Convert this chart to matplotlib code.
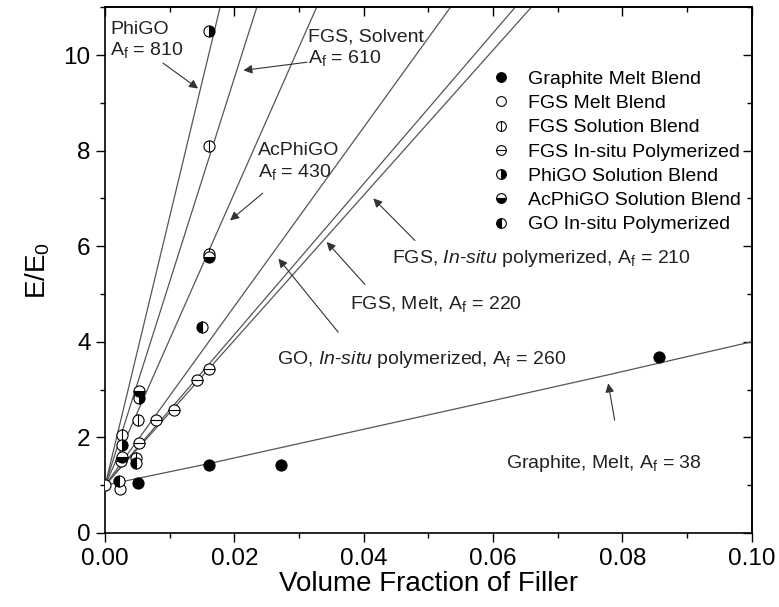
import matplotlib
matplotlib.use("Agg")
import matplotlib.pyplot as plt
from matplotlib.lines import Line2D
from matplotlib.ticker import MultipleLocator, FormatStrFormatter

plt.rcParams["font.family"] = ["Liberation Sans", "DejaVu Sans"]
plt.rcParams["mathtext.fontset"] = "custom"
plt.rcParams["mathtext.rm"] = "Liberation Sans"
plt.rcParams["mathtext.it"] = "Liberation Sans:italic"

# measured points
graphite_x = [0.00505, 0.0161, 0.0272, 0.0856]
graphite_y = [1.05, 1.42, 1.43, 3.68]
fgs_melt_x = [0.0, 0.0023]
fgs_melt_y = [1.0, 0.93]
fgs_sol_x = [0.0026, 0.0047, 0.00505, 0.0161, 0.0161]
fgs_sol_y = [2.04, 1.56, 2.36, 5.84, 8.1]
fgs_insitu_x = [0.0024, 0.0053, 0.0079, 0.0107, 0.01427, 0.0161]
fgs_insitu_y = [1.5, 1.88, 2.36, 2.57, 3.21, 3.44]
phigo_x = [0.0026, 0.0053, 0.0161]
phigo_y = [1.83, 2.83, 10.5]
acphigo_x = [0.0026, 0.0053, 0.0161]
acphigo_y = [1.58, 2.97, 5.78]
go_x = [0.0022, 0.0047, 0.01504]
go_y = [1.09, 1.46, 4.30]

# fitted lines
fit_top_x = [0.01777, 0.02345, 0.0327, 0.0534, 0.0634, 0.0659]  # where each line leaves y=11
graphite_fit_x = [0.0, 0.016, 0.030, 0.058, 0.0775, 0.100]
graphite_fit_y = [1.0, 1.45, 1.87, 2.71, 3.30, 4.0]

af = r"A$_\mathrm{f}$"
# label text, text position, arrow tail, arrow tip
notes = [
    ("PhiGO\n" + af + " = 810", (0.0008, 10.30), (0.00896, 9.83), (0.01437, 9.30)),
    ("FGS, Solvent\n" + af + " = 610", (0.0314, 10.14), (0.0312, 9.85), (0.02138, 9.68)),
    ("AcPhiGO\n" + af + " = 430", (0.02365, 7.76), (0.02437, 7.11), (0.01932, 6.54)),
    ("GO, $\\mathit{In}$-$\\mathit{situ}$ polymerized, " + af + " = 260", (0.0265, 3.63), (0.03605, 4.2), (0.0268, 5.74)),
    ("FGS, Melt, " + af + " = 220", (0.0379, 4.8), (0.04018, 5.2), (0.03426, 6.09)),
    ("FGS, $\\mathit{In}$-$\\mathit{situ}$ polymerized, " + af + " = 210", (0.0443, 5.75), (0.04791, 6.12), (0.04147, 7.0)),
    ("Graphite, Melt, " + af + " = 38", (0.0620, 1.45), (0.0788, 2.36), (0.0778, 3.13)),
]

fig = plt.figure(figsize=(7.79, 6.07), dpi=100)
ax = fig.add_axes([0.135, 0.122, 0.83, 0.866])

line_kw = dict(color="#555555", lw=0.9, zorder=1)
for xt in fit_top_x:
    ax.plot([0.0, xt], [1.0, 11.0], **line_kw)
ax.plot(graphite_fit_x, graphite_fit_y, **line_kw)

base = dict(ls="none", ms=8, mec="black", mew=0.8, zorder=3)
ax.plot(graphite_x, graphite_y, marker="o", mfc="black", **base)
ax.plot(fgs_melt_x, fgs_melt_y, marker="o", mfc="white", **base)
ax.plot(fgs_sol_x, fgs_sol_y, marker="o", mfc="white", **base)
ax.plot(fgs_sol_x, fgs_sol_y, marker="|", **base)
ax.plot(fgs_insitu_x, fgs_insitu_y, marker="o", mfc="white", **base)
ax.plot(fgs_insitu_x, fgs_insitu_y, marker="_", **base)
ax.plot(phigo_x, phigo_y, marker="o", fillstyle="right", mfc="black", mfcalt="white", **base)
ax.plot(acphigo_x, acphigo_y, marker="o", fillstyle="bottom", mfc="black", mfcalt="white", **base)
ax.plot(go_x, go_y, marker="o", fillstyle="left", mfc="black", mfcalt="white", **base)

# legend
lk = dict(ls="none", ms=7, mec="black", mew=0.8)
handles = [
    Line2D([], [], marker="o", mfc="black", **lk),
    Line2D([], [], marker="o", mfc="white", **lk),
    (Line2D([], [], marker="o", mfc="white", **lk), Line2D([], [], marker="|", **lk)),
    (Line2D([], [], marker="o", mfc="white", **lk), Line2D([], [], marker="_", **lk)),
    Line2D([], [], marker="o", fillstyle="right", mfc="black", mfcalt="white", **lk),
    Line2D([], [], marker="o", fillstyle="bottom", mfc="black", mfcalt="white", **lk),
    Line2D([], [], marker="o", fillstyle="left", mfc="black", mfcalt="white", **lk),
]
labels = ["Graphite Melt Blend", "FGS Melt Blend", "FGS Solution Blend",
          "FGS In-situ Polymerized", "PhiGO Solution Blend",
          "AcPhiGO Solution Blend", "GO In-situ Polymerized"]
ax.legend(handles, labels, loc="upper left", bbox_to_anchor=(0.594, 0.88),
          frameon=False, fontsize=14, labelspacing=0.34, handlelength=1.2,
          handletextpad=0.8, borderaxespad=0, borderpad=0)

arrow = dict(arrowstyle="-|>", color="#333333", lw=0.8, mutation_scale=13,
             shrinkA=0, shrinkB=0)
for label, pos, tail, tip in notes:
    ax.text(pos[0], pos[1], label, fontsize=14, color="#222222",
            ha="left", va="center", linespacing=1.15)
    ax.annotate("", xy=tip, xytext=tail, arrowprops=arrow)

ax.set_xlim(0, 0.10)
ax.set_ylim(0, 11)
ax.xaxis.set_major_locator(MultipleLocator(0.02))
ax.xaxis.set_minor_locator(MultipleLocator(0.01))
ax.yaxis.set_major_locator(MultipleLocator(2))
ax.yaxis.set_minor_locator(MultipleLocator(1))
ax.xaxis.set_major_formatter(FormatStrFormatter("%.2f"))
ax.tick_params(which="both", direction="out", top=False, right=False,
               labelsize=17.5, width=1.0, pad=4)
ax.tick_params(which="major", length=6.5)
ax.tick_params(which="minor", length=3.5)

# top and right ticks point inwards
top = ax.secondary_xaxis("top")
top.xaxis.set_major_locator(MultipleLocator(0.02))
top.xaxis.set_minor_locator(MultipleLocator(0.01))
top.tick_params(which="both", direction="in", labeltop=False, width=1.0)
top.tick_params(which="major", length=6.5)
top.tick_params(which="minor", length=3.5)
right = ax.secondary_yaxis("right")
right.yaxis.set_major_locator(MultipleLocator(2))
right.yaxis.set_minor_locator(MultipleLocator(1))
right.tick_params(which="both", direction="in", labelright=False, width=1.0)
right.tick_params(which="major", length=6.5)
right.tick_params(which="minor", length=3.5)

for sp in list(ax.spines.values()) + [top.spines["top"], right.spines["right"]]:
    sp.set_linewidth(1.2)

ax.set_xlabel("Volume Fraction of Filler", fontsize=20, labelpad=1)
ax.set_ylabel("E/E$_0$", fontsize=20, labelpad=8)

fig.savefig("out.png", dpi=100)
